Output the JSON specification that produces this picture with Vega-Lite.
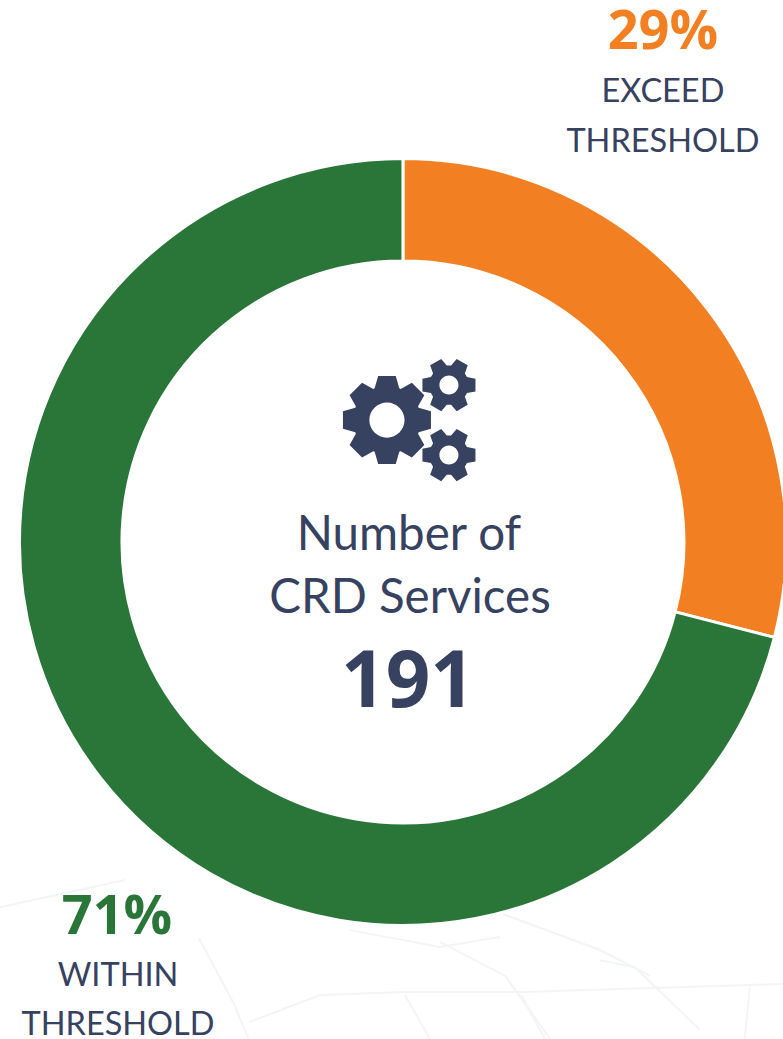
{
  "$schema": "https://vega.github.io/schema/vega-lite/v6.json",
  "autosize": {"type": "none"},
  "width": 783,
  "height": 1039,
  "padding": 0,
  "background": "#ffffff",
  "view": {"stroke": null},
  "datasets": {
    "segments": [
      {"segment": "Exceed threshold", "share": 29, "rank": 1},
      {"segment": "Within threshold", "share": 71, "rank": 2}
    ],
    "shares": [
      {"segment": "Exceed threshold", "text": "29%", "px": 68.06, "py": 129.06},
      {"segment": "Within threshold", "text": "71%", "px": -74.87, "py": -102.6}
    ],
    "captions": [
      {"text": "EXCEED", "px": 68.06, "py": 115.18},
      {"text": "THRESHOLD", "px": 68.06, "py": 102.1},
      {"text": "WITHIN", "px": -74.6, "py": -116.2},
      {"text": "THRESHOLD", "px": -74.6, "py": -129.06}
    ],
    "centreTitle": [
      {"text": "Number of", "px": 1.57, "py": -2.09},
      {"text": "CRD Services", "px": 1.83, "py": -18.59}
    ],
    "centreTotal": [{"text": "191", "px": 1.31, "py": -43.19}],
    "largeGear": [{"px": -4.19, "py": 31.94}],
    "smallGears": [{"px": 12.04, "py": 41.1}, {"px": 12.04, "py": 22.77}],
    "mapLines": [
      {"road": "a", "seq": 1, "px": -53.4, "py": -103.7},
      {"road": "a", "seq": 2, "px": -44.2, "py": -121.0},
      {"road": "a", "seq": 3, "px": -40.3, "py": -130.4},
      {"road": "b", "seq": 1, "px": -105.5, "py": -95.6},
      {"road": "b", "seq": 2, "px": -72.8, "py": -88.5},
      {"road": "c", "seq": 1, "px": -13.9, "py": -101.6},
      {"road": "c", "seq": 2, "px": 9.7, "py": -106.0},
      {"road": "c", "seq": 3, "px": 25.4, "py": -103.4},
      {"road": "d", "seq": 1, "px": 9.7, "py": -104.7},
      {"road": "d", "seq": 2, "px": 26.8, "py": -113.6},
      {"road": "d", "seq": 3, "px": 38.5, "py": -130.1},
      {"road": "e", "seq": 1, "px": -40.3, "py": -125.7},
      {"road": "e", "seq": 2, "px": -21.7, "py": -118.6},
      {"road": "e", "seq": 3, "px": 0.5, "py": -117.8},
      {"road": "e", "seq": 4, "px": 31.9, "py": -117.8},
      {"road": "e", "seq": 5, "px": 99.7, "py": -115.7},
      {"road": "f", "seq": 1, "px": 0.5, "py": -118.6},
      {"road": "f", "seq": 2, "px": 7.1, "py": -130.1},
      {"road": "g", "seq": 1, "px": 30.9, "py": -118.6},
      {"road": "g", "seq": 2, "px": 37.2, "py": -130.1},
      {"road": "h", "seq": 1, "px": 51.6, "py": -109.5},
      {"road": "h", "seq": 2, "px": 60.7, "py": -111.3},
      {"road": "h", "seq": 3, "px": 77.7, "py": -127.6},
      {"road": "i", "seq": 1, "px": 25.4, "py": -97.1},
      {"road": "i", "seq": 2, "px": 51.6, "py": -106.8},
      {"road": "i", "seq": 3, "px": 64.7, "py": -113.6},
      {"road": "j", "seq": 1, "px": 90.8, "py": -116.6},
      {"road": "j", "seq": 2, "px": 89.5, "py": -130.1}
    ]
  },
  "layer": [
    {
      "data": {"name": "mapLines"},
      "mark": {"type": "line", "color": "#f3f4f6", "strokeWidth": 2},
      "encoding": {
        "x": {"field": "px", "type": "quantitative", "axis": null, "scale": {"domain": [-105.5, 99.5], "nice": false, "zero": false}},
        "y": {"field": "py", "type": "quantitative", "axis": null, "scale": {"domain": [-130.1, 141.9], "nice": false, "zero": false}},
        "detail": {"field": "road"},
        "order": {"field": "seq"}
      }
    },
    {
      "data": {"name": "segments"},
      "transform": [
        {"stack": "share", "sort": [{"field": "rank", "order": "ascending"}], "as": ["shareStart", "shareEnd"]}
      ],
      "mark": {"type": "arc", "outerRadius": 383.5, "innerRadius": 281, "stroke": "#ffffff", "strokeWidth": 3},
      "encoding": {
        "x": {"datum": 0, "type": "quantitative"},
        "y": {"datum": 0, "type": "quantitative"},
        "theta": {"field": "shareStart", "type": "quantitative", "scale": {"domain": [0, 100], "range": [0, 6.2832]}},
        "theta2": {"field": "shareEnd"},
        "color": {
          "field": "segment",
          "type": "nominal",
          "legend": null,
          "scale": {"domain": ["Exceed threshold", "Within threshold"], "range": ["#F28022", "#2A7638"]}
        }
      }
    },
    {
      "data": {"name": "largeGear"},
      "mark": {
        "type": "point",
        "filled": true,
        "opacity": 1,
        "color": "#36425F",
        "size": 7744,
        "shape": "M-.28,-.72 L-.2,-1 L.2,-1 L.28,-.72 L.311,-.707 L.566,-.849 L.849,-.566 L.707,-.311 L.72,-.28 L1,-.2 L1,.2 L.72,.28 L.707,.311 L.849,.566 L.566,.849 L.311,.707 L.28,.72 L.2,1 L-.2,1 L-.28,.72 L-.311,.707 L-.566,.849 L-.849,.566 L-.707,.311 L-.72,.28 L-1,.2 L-1,-.2 L-.72,-.28 L-.707,-.311 L-.849,-.566 L-.566,-.849 L-.311,-.707 Z M0,-.4 A.4,.4 0 1 0 0,.4 A.4,.4 0 1 0 0,-.4 Z"
      },
      "encoding": {
        "x": {"field": "px", "type": "quantitative"},
        "y": {"field": "py", "type": "quantitative"}
      }
    },
    {
      "data": {"name": "smallGears"},
      "mark": {
        "type": "point",
        "filled": true,
        "opacity": 1,
        "color": "#36425F",
        "size": 2809,
        "shape": "M.68,-.3 L1,-.24 L1,.24 L.68,.3 L.6,.439 L.708,.746 L.292,.986 L.08,.739 L-.08,.739 L-.292,.986 L-.708,.746 L-.6,.439 L-.68,.3 L-1,.24 L-1,-.24 L-.68,-.3 L-.6,-.439 L-.708,-.746 L-.292,-.986 L-.08,-.739 L.08,-.739 L.292,-.986 L.708,-.746 L.6,-.439 Z M0,-.36 A.36,.36 0 1 0 0,.36 A.36,.36 0 1 0 0,-.36 Z"
      },
      "encoding": {
        "x": {"field": "px", "type": "quantitative"},
        "y": {"field": "py", "type": "quantitative"}
      }
    },
    {
      "data": {"name": "shares"},
      "mark": {"type": "text", "font": "Open Sans", "fontWeight": "bold", "fontSize": 54, "align": "center", "baseline": "alphabetic"},
      "encoding": {
        "x": {"field": "px", "type": "quantitative"},
        "y": {"field": "py", "type": "quantitative"},
        "text": {"field": "text"},
        "color": {"field": "segment", "type": "nominal", "legend": null}
      }
    },
    {
      "data": {"name": "captions"},
      "mark": {"type": "text", "font": "Lato", "fontSize": 32.5, "color": "#36425F", "align": "center", "baseline": "alphabetic"},
      "encoding": {
        "x": {"field": "px", "type": "quantitative"},
        "y": {"field": "py", "type": "quantitative"},
        "text": {"field": "text"}
      }
    },
    {
      "data": {"name": "centreTitle"},
      "mark": {"type": "text", "font": "Lato", "fontSize": 47.5, "color": "#36425F", "align": "center", "baseline": "alphabetic"},
      "encoding": {
        "x": {"field": "px", "type": "quantitative"},
        "y": {"field": "py", "type": "quantitative"},
        "text": {"field": "text"}
      }
    },
    {
      "data": {"name": "centreTotal"},
      "mark": {"type": "text", "font": "Open Sans", "fontWeight": "bold", "fontSize": 78, "color": "#36425F", "align": "center", "baseline": "alphabetic"},
      "encoding": {
        "x": {"field": "px", "type": "quantitative"},
        "y": {"field": "py", "type": "quantitative"},
        "text": {"field": "text"}
      }
    }
  ]
}
